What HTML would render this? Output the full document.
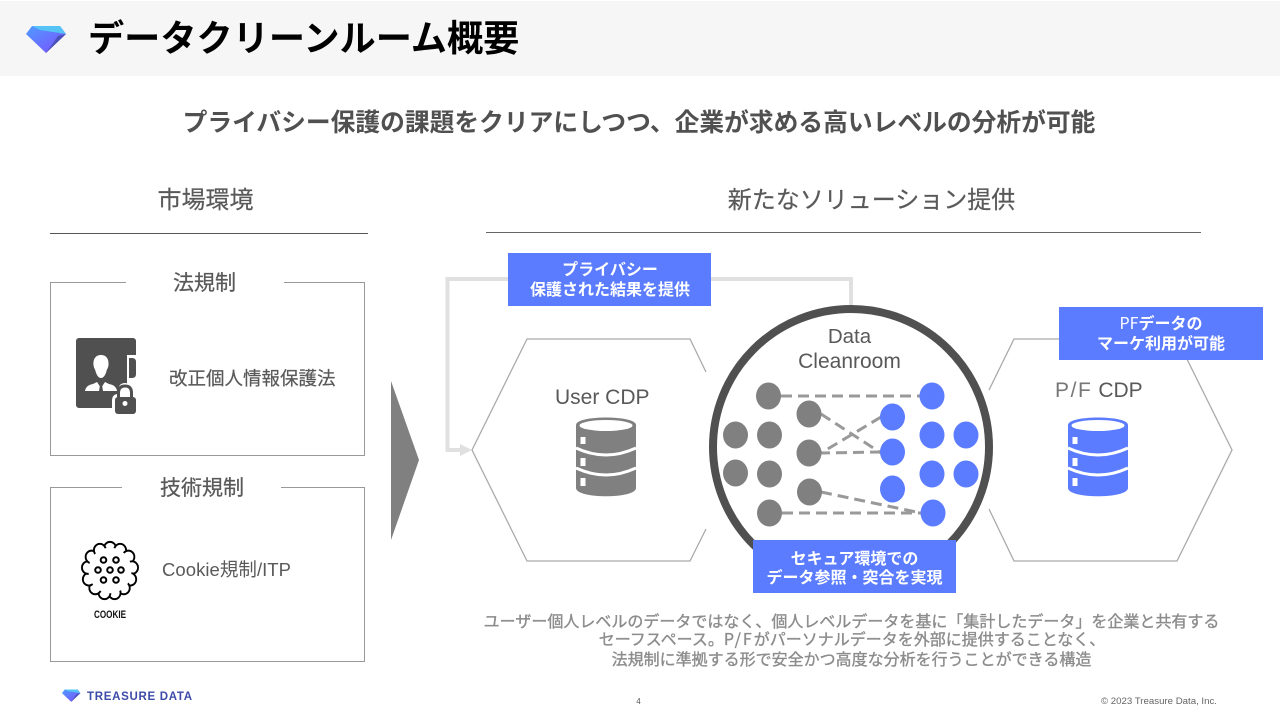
<!DOCTYPE html>
<html lang="ja"><head><meta charset="utf-8"><title>データクリーンルーム概要</title>
<style>
html,body{margin:0;padding:0;background:#fff;width:1280px;height:720px;overflow:hidden}
svg{display:block}
text{font-family:"Liberation Sans","Noto Sans CJK JP",sans-serif}
.j{font-family:"Noto Sans CJK JP","Liberation Sans",sans-serif}
.w{fill:#fff;font-size:16px;font-weight:700;text-anchor:middle}
.n{fill:#808080}.b{fill:#5b7cff}
.d{stroke:#999;stroke-width:3;stroke-dasharray:11 6;fill:none}
</style></head><body>
<svg width="1280" height="720" viewBox="0 0 1280 720" xmlns="http://www.w3.org/2000/svg">
<defs>
<linearGradient id="g1" x1="0" y1="0" x2="1" y2="1"><stop offset="0" stop-color="#4f9cff"/><stop offset="1" stop-color="#7d4dff"/></linearGradient>
<g id="gem">
<path d="M0 9 L6 1 H34 L40 9 L20 28Z" fill="url(#g1)"/>
<path d="M6 1 H34 L40 9 L14 5Z" fill="#56c3f7"/>
<path d="M40 9 L32 11 L20 28Z" fill="#4a52b8"/>
</g>
<g id="db">
<path d="M0 8 C0 -2 60 -2 60 8 V71 C60 82 0 82 0 71Z"/>
<ellipse cx="30" cy="8.500" rx="26.500" ry="5.500" fill="#fff"/>
<path d="M0 31 Q30 45 60 31M0 51 Q30 65 60 51" stroke="#fff" stroke-width="3" fill="none"/>
<rect x="4.500" y="20" width="5" height="7" fill="#fff"/><rect x="4.500" y="41" width="5" height="8" fill="#fff"/><rect x="4.500" y="61" width="5" height="8" fill="#fff"/>
</g>
</defs>
<rect x="0" y="1" width="1280" height="75" fill="#f6f6f6"/>
<use href="#gem" x="26" y="25"/>
<text class="j" x="88" y="51" font-size="36.200" font-weight="700" fill="#000">データクリーンルーム概要</text>
<text class="j" x="639" y="131" font-size="24.750" font-weight="700" fill="#505050" text-anchor="middle">プライバシー保護の課題をクリアにしつつ、企業が求める高いレベルの分析が可能</text>
<text class="j" x="205.500" y="208" font-size="24" fill="#595959" stroke="#595959" stroke-width=".2" text-anchor="middle">市場環境</text>
<text class="j" x="871.500" y="208" font-size="24" fill="#595959" stroke="#595959" stroke-width=".2" text-anchor="middle">新たなソリューション提供</text>
<rect x="50" y="233" width="318" height="1" fill="#555"/>
<rect x="486" y="232" width="715" height="1" fill="#666"/>
<path d="M126 282.500H50.500V455.500H364.500V282.500H284" fill="none" stroke="#999"/>
<path d="M122 487.500H50.500V661.500H364.500V487.500H281" fill="none" stroke="#999"/>
<text class="j" x="204.500" y="290" font-size="21" fill="#595959" stroke="#595959" stroke-width=".25" text-anchor="middle">法規制</text>
<text class="j" x="202" y="495" font-size="21" fill="#595959" stroke="#595959" stroke-width=".25" text-anchor="middle">技術規制</text>
<text class="j" x="169" y="385" font-size="18.500" fill="#595959" stroke="#595959" stroke-width=".2">改正個人情報保護法</text>
<text x="162" y="576" font-size="18.500" fill="#595959" textLength="129">Cookie<tspan class="j">規制</tspan>/ITP</text>
<!-- person icon -->
<path d="M76 341a3 3 0 0 1 3-3h54a3 3 0 0 1 3 3v14h-9v53h-48a3 3 0 0 1-3-3z" fill="#505050"/>
<path d="M129 358h3q4 0 4 4v12q0 4-4 4h-3z" fill="#505050"/>
<path d="M101 355c6 0 8 5 7.500 10 -.3 3-1.500 4-2 6-1 4-3 7-5.500 7s-4.500-3-5.500-7c-.5-2-1.700-3-2-6-.5-5 1.500-10 7.500-10z" fill="#fff"/>
<path d="M85 391q1-6 8-7l4-2 4 6 4-6 4 2q7 1 8 7z" fill="#fff"/><path d="M100 385h2l1 6h-4z" fill="#505050"/>
<path d="M112 413v-12q0-7 6-7v-2q0-9 7-9t7 9v2q6 0 6 7v12z" fill="#fff"/>
<path d="M118.500 398v-5q0-7 6.500-7t6.500 7v5" fill="none" stroke="#505050" stroke-width="3"/>
<rect x="115" y="397" width="21" height="17" rx="3" fill="#505050"/><circle cx="125" cy="403.500" r="2.500" fill="#fff"/>
<!-- cookie -->
<g transform="translate(110 570.500) scale(.92 .97) translate(-110 -570)">
<g fill="#fff" stroke="#000" stroke-width="2">
<circle cx="110" cy="547" r="6.500"/><circle cx="121" cy="549" r="6.500"/><circle cx="130" cy="556" r="6.500"/><circle cx="134" cy="567" r="6.500"/><circle cx="132" cy="579" r="6.500"/><circle cx="125" cy="588" r="6.500"/><circle cx="115" cy="593" r="6.500"/><circle cx="104" cy="593" r="6.500"/><circle cx="94" cy="588" r="6.500"/><circle cx="87" cy="579" r="6.500"/><circle cx="86" cy="567" r="6.500"/><circle cx="90" cy="556" r="6.500"/><circle cx="99" cy="549" r="6.500"/>
</g>
<circle cx="110" cy="570" r="23.500" fill="#fff"/>
</g>
<g fill="none" stroke="#000" stroke-width="2"><circle cx="103.500" cy="560" r="2.800"/><circle cx="116" cy="560" r="2.800"/><circle cx="98" cy="570" r="2.800"/><circle cx="110" cy="570" r="2.800"/><circle cx="121" cy="570" r="2.800"/><circle cx="103.500" cy="580" r="2.800"/><circle cx="116" cy="580" r="2.800"/></g>
<text x="94" y="618" font-size="11" font-weight="700" fill="#111" textLength="32" lengthAdjust="spacingAndGlyphs">COOKIE</text>
<!-- big arrow -->
<path d="M391 381L419 460L391 540Z" fill="#808080"/>
<!-- hexes -->
<path d="M706 372L690 339H527L472 450L527 561H690L706 529" fill="none" stroke="#aaa" stroke-width="1.300"/>
<path d="M989 390L1014 339H1177L1232 450L1177 561H1014L989 509" fill="none" stroke="#aaa" stroke-width="1.300"/>
<!-- return arrow -->
<path d="M851 305V279H447.500V450H461" fill="none" stroke="#e0e0e0" stroke-width="4"/>
<path d="M460 444L472 450L460 456Z" fill="#e0e0e0"/>
<text x="555" y="404" font-size="21" fill="#595959">User CDP</text>
<text x="1055" y="397" font-size="21" fill="#595959"><tspan fill="#777" letter-spacing="1.600">P/F</tspan> CDP</text>
<use href="#db" x="576" y="417" fill="#808080"/>
<use href="#db" x="1068" y="417" fill="#5b7cff"/>
<!-- circle -->
<circle cx="851" cy="447" r="138" fill="#fff" stroke="#505050" stroke-width="8"/>
<text x="849.500" y="343" font-size="20.500" fill="#595959" text-anchor="middle">Data</text>
<text x="849.500" y="368" font-size="21" fill="#595959" text-anchor="middle">Cleanroom</text>
<path class="d" d="M781 396H920"/><path class="d" d="M821 414L881 453"/><path class="d" d="M881 417L821 453"/><path class="d" d="M881 452L821 453"/><path class="d" d="M821 492L921 513"/><path class="d" d="M782 513H921"/>
<g class="n"><ellipse cx="768.500" cy="396" rx="12.500" ry="13.500"/><ellipse cx="809" cy="414" rx="12.500" ry="13.500"/><ellipse cx="809" cy="453" rx="12.500" ry="13.500"/><ellipse cx="809.500" cy="492" rx="12.500" ry="13.500"/><ellipse cx="735.500" cy="435" rx="12.500" ry="13.500"/><ellipse cx="735.500" cy="473" rx="12.500" ry="13.500"/><ellipse cx="769.500" cy="435" rx="12.500" ry="13.500"/><ellipse cx="769.500" cy="474" rx="12.500" ry="13.500"/><ellipse cx="769.500" cy="513" rx="12.500" ry="13.500"/></g>
<g class="b"><ellipse cx="932" cy="396" rx="12.500" ry="13.500"/><ellipse cx="892.500" cy="417" rx="12.500" ry="13.500"/><ellipse cx="892.500" cy="452" rx="12.500" ry="13.500"/><ellipse cx="892.500" cy="489" rx="12.500" ry="13.500"/><ellipse cx="932" cy="435" rx="12.500" ry="13.500"/><ellipse cx="932" cy="474" rx="12.500" ry="13.500"/><ellipse cx="966" cy="435" rx="12.500" ry="13.500"/><ellipse cx="966" cy="474" rx="12.500" ry="13.500"/><ellipse cx="933" cy="513" rx="12.500" ry="13.500"/></g>
<!-- blue labels -->
<rect x="508" y="253" width="203" height="53" fill="#5b7cff"/>
<text class="j w" x="610" y="275">プライバシー</text><text class="j w" x="610" y="295">保護された結果を提供</text>
<rect x="1059" y="307" width="204" height="53" fill="#5b7cff"/>
<text class="j w" x="1161" y="329"><tspan font-weight="400">PF</tspan>データの</text><text class="j w" x="1161" y="349">マーケ利用が可能</text>
<rect x="753" y="540" width="203" height="53" fill="#5b7cff"/>
<text class="j w" x="854.500" y="564">セキュア環境での</text><text class="j w" x="854.500" y="583">データ参照・突合を実現</text>
<!-- body -->
<g font-size="16" fill="#8c8c8c" stroke="#8c8c8c" stroke-width=".35" text-anchor="middle">
<text class="j" x="851.500" y="627">ユーザー個人レベルのデータではなく、個人レベルデータを基に「集計したデータ」を企業と共有する</text>
<text class="j" x="852" y="645">セーフスペース。<tspan letter-spacing="2">P/F</tspan>がパーソナルデータを外部に提供することなく、</text>
<text class="j" x="851.500" y="665">法規制に準拠する形で安全かつ高度な分析を行うことができる構造</text>
</g>
<!-- footer -->
<use href="#gem" transform="translate(62 689) scale(.46)"/>
<text x="87" y="700" font-size="11.500" font-weight="700" fill="#3d4ba8" textLength="105">TREASURE DATA</text>
<text x="638.500" y="704" font-size="8" fill="#555" text-anchor="middle">4</text>
<text x="1101" y="704" font-size="9" fill="#666" textLength="116" lengthAdjust="spacingAndGlyphs">© 2023 Treasure Data, Inc.</text>
</svg>
</body></html>
